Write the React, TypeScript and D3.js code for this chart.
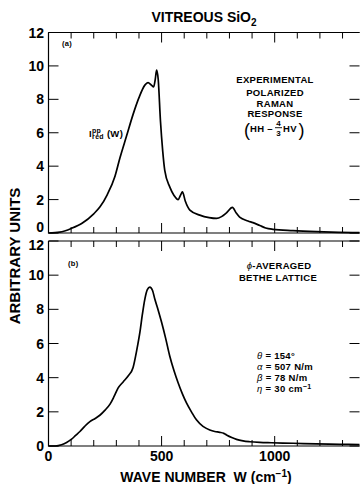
import React from "react";
import * as d3 from "d3";

const W = 360;
const H = 484;

// Panel (a): experimental polarized Raman response [wave number, value]
const expW = [0, 50, 102, 150, 200, 227, 260, 294, 316, 345, 374, 400, 426, 440, 455, 465, 472, 478, 485, 495, 505, 514, 536, 555, 573, 585, 592, 605, 625, 669, 710, 743, 765, 787, 813, 830, 845, 882, 904, 934, 960, 992, 1081, 1184, 1287, 1375];
const expV = [0, 0.05, 0.28, 0.6, 1.15, 1.55, 2.3, 3.4, 4.5, 5.8, 7.1, 8.1, 8.85, 9.0, 8.85, 8.75, 9.2, 9.75, 9.2, 6.7, 4.9, 3.75, 2.76, 2.25, 2.0, 2.3, 2.46, 1.9, 1.37, 1.07, 0.92, 0.87, 0.98, 1.21, 1.53, 1.2, 0.95, 0.72, 0.62, 0.45, 0.3, 0.22, 0.14, 0.08, 0.04, 0.02];

// Panel (b): phi-averaged Bethe lattice
const betheW = [0, 30, 58, 80, 102, 120, 139, 160, 183, 205, 227, 250, 272, 290, 308, 330, 352, 374, 390, 404, 415, 426, 437, 448, 460, 470, 485, 500, 518, 536, 555, 573, 592, 610, 632, 654, 683, 713, 735, 757, 775, 787, 810, 831, 860, 890, 934, 985, 1081, 1184, 1287, 1375];
const betheV = [0, 0, 0.07, 0.2, 0.4, 0.62, 0.85, 1.15, 1.43, 1.6, 1.8, 2.1, 2.45, 2.9, 3.4, 3.75, 4.1, 4.6, 5.6, 6.65, 7.7, 8.6, 9.15, 9.3, 9.1, 8.6, 7.95, 7.24, 6.3, 5.27, 4.4, 3.7, 3.05, 2.52, 2.0, 1.53, 1.15, 0.94, 0.85, 0.8, 0.74, 0.65, 0.5, 0.39, 0.3, 0.25, 0.21, 0.19, 0.16, 0.12, 0.1, 0.08];

const yTicks = [0, 2, 4, 6, 8, 10, 12];
const xLabelTicks = [0, 500, 1000];
const xMinorTicks = d3.range(0, 1400, 100);

const FONT = "'Liberation Sans', Arial, Helvetica, sans-serif";

const x = d3.scaleLinear().domain([0, 1375]).range([48.5, 359.5]);
const yA = d3.scaleLinear().domain([0, 12]).range([233, 32.5]);
const yB = d3.scaleLinear().domain([0, 12]).range([446, 241]);

function Panel({ y, w, v, showXLabels, top }: { y: d3.ScaleLinear<number, number>; w: number[]; v: number[]; showXLabels: boolean; top: boolean }) {
  const [y0, y1] = y.range();
  const line = d3
    .line<number>()
    .x((_, i) => x(w[i]))
    .y((d) => y(d))
    .curve(d3.curveMonotoneX);
  const xl = x.range()[0];
  const xr = x.range()[1];
  const labelY = (t: number) => {
    if (top && t === 0) return y(t) - 1;
    if (!top && t === 12) return y(t) + 9;
    return y(t) + 5;
  };
  return (
    <g>
      <path d={`M${xl},${y1}H${xr}M${xl},${y1}V${y0}H${xr}`} fill="none" stroke="#000" strokeWidth={1.2} />
      {yTicks.map((t) => (
        <g key={"yt" + t}>
          <line x1={xl} x2={xl + 10} y1={y(t)} y2={y(t)} stroke="#000" strokeWidth={1} />
          <line x1={xr - 10} x2={xr} y1={y(t)} y2={y(t)} stroke="#000" strokeWidth={1} />
          <text x={44} y={labelY(t)} textAnchor="end" fontFamily={FONT} fontWeight="bold" fontSize={14}>
            {t}
          </text>
        </g>
      ))}
      {xMinorTicks.map((t) => {
        const len = t % 500 === 0 ? 10 : 6;
        return (
          <g key={"xt" + t}>
            <line x1={x(t)} x2={x(t)} y1={y0} y2={y0 - len} stroke="#000" strokeWidth={1} />
            <line x1={x(t)} x2={x(t)} y1={y1} y2={y1 + len} stroke="#000" strokeWidth={1} />
          </g>
        );
      })}
      {showXLabels &&
        xLabelTicks.map((t) => (
          <text key={"xl" + t} x={x(t)} y={461} textAnchor="middle" fontFamily={FONT} fontWeight="bold" fontSize={14}>
            {t}
          </text>
        ))}
      <path d={line(v) || ""} fill="none" stroke="#000" strokeWidth={1.7} strokeLinejoin="round" />
    </g>
  );
}

export default function App() {
  const small = { fontFamily: FONT, fontWeight: "bold" as const, fontSize: 9.5, letterSpacing: 0.3 };
  return (
    <svg width={W} height={H} style={{ position: "absolute", left: 0, top: 0, background: "#fff" }}>
      <rect width={W} height={H} fill="#fff" />
      <text x={204} y={22} textAnchor="middle" fontFamily={FONT} fontWeight="bold" fontSize={14}>
        VITREOUS SiO<tspan fontSize={10} dy={4}>2</tspan>
      </text>

      <Panel y={yA} w={expW} v={expV} showXLabels={false} top={true} />
      <Panel y={yB} w={betheW} v={betheV} showXLabels={true} top={false} />

      <text x={62} y={46} {...small} fontSize={7.5}>(a)</text>
      <text x={68} y={266} {...small} fontSize={7.5}>(b)</text>

      {/* I_red^pp (W) */}
      <text x={89} y={137} {...small}>
        I
        <tspan fontSize={7} dy={-4}>pp</tspan>
        <tspan fontSize={7} dx={-9} dy={6}>red</tspan>
        <tspan fontSize={9.5} dx={3} dy={-2}>(W)</tspan>
      </text>

      <g textAnchor="middle">
        <text x={275} y={83} {...small}>EXPERIMENTAL</text>
        <text x={275} y={96} {...small}>POLARIZED</text>
        <text x={275} y={106.5} {...small}>RAMAN</text>
        <text x={275} y={117} {...small}>RESPONSE</text>
      </g>
      {/* (HH - 4/3 HV) */}
      <text x={244} y={136} fontFamily={FONT} fontSize={18} fontWeight="normal">(</text>
      <text x={250} y={132} {...small}>HH –</text>
      <text x={278.5} y={126} textAnchor="middle" {...small} fontSize={8}>4</text>
      <line x1={275} x2={282} y1={127.7} y2={127.7} stroke="#000" strokeWidth={0.9} />
      <text x={278.5} y={135.5} textAnchor="middle" {...small} fontSize={8}>3</text>
      <text x={283} y={132} {...small}>HV</text>
      <text x={298.5} y={136} fontFamily={FONT} fontSize={18} fontWeight="normal">)</text>

      <g textAnchor="middle">
        <text x={279} y={269} {...small}>
          <tspan fontStyle="italic" fontWeight="normal">ϕ</tspan>-AVERAGED
        </text>
        <text x={278} y={280.5} {...small}>BETHE LATTICE</text>
      </g>
      <g {...small}>
        <text x={257} y={359}>
          <tspan fontStyle="italic" fontWeight="normal">θ</tspan> = 154°
        </text>
        <text x={257} y={370}>
          <tspan fontStyle="italic" fontWeight="normal">α</tspan> = 507 N/m
        </text>
        <text x={257} y={381}>
          <tspan fontStyle="italic" fontWeight="normal">β</tspan> = 78 N/m
        </text>
        <text x={257} y={392}>
          <tspan fontStyle="italic" fontWeight="normal">η</tspan> = 30 cm<tspan fontSize={7} dy={-3}>−1</tspan>
        </text>
      </g>

      <text x={206} y={482} textAnchor="middle" fontFamily={FONT} fontWeight="bold" fontSize={14}>
        WAVE NUMBER{"\u00a0\u00a0"}W (cm<tspan fontSize={10} dy={-5}>−1</tspan>
        <tspan dy={5}>)</tspan>
      </text>

      <text transform="translate(20,256) rotate(-90)" textAnchor="middle" fontFamily={FONT} fontWeight="bold" fontSize={15}>
        ARBITRARY UNITS
      </text>
    </svg>
  );
}
